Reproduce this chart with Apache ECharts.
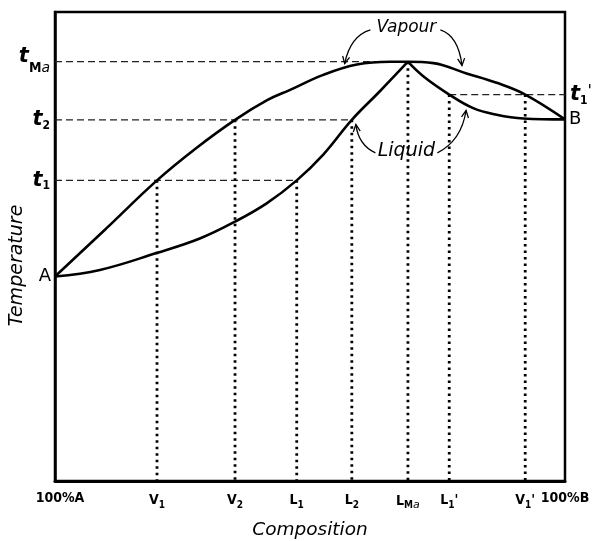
<!DOCTYPE html>
<html><head><meta charset="utf-8">
<script src="https://cdn.jsdelivr.net/npm/echarts@6/dist/echarts.min.js"></script>
<style>html,body{margin:0;padding:0;background:#fff}#c{width:593px;height:541px}</style>
</head><body><div id="c"></div>
<script>
// ---- data (composition % along axis, temperature in relative units) ----
const compTicks  = [0, 20, 35.3, 47.4, 58.2, 69.2, 77.3, 92.2, 100];
const compLabels = ['100%A', 'V{s|1}', 'V{s|2}', 'L{s|1}', 'L{s|2}', 'L{s|M}{si|a}', "L{s|1}'", "V{s|1}'", '100%B'];
const tempTicks  = [64.1, 77.0, 89.4];
const tempLabels = ['{t|t}{s|1}', '{t|t}{s|2}', '{tt|t}{S|M}{SI|a}'];
const t1pTemp = 82.4;
const t1pLabel = "{t|t}{s|1}{p|'}";
const tempA = 43.6, tempB = 77.1;

const vapourX = [0, 10, 20, 27.6, 35.3, 41.6, 46.1, 52.6, 59.2, 65.7, 69.2, 74.2, 80.7, 86.6, 92.2, 100];
const vapourY = [43.6, 53.8, 64.1, 70.9, 77.0, 81.2, 83.4, 86.6, 88.8, 89.4, 89.4, 89.1, 86.9, 84.9, 82.4, 77.1];
const liquidX = [0, 8.8, 19.9, 28.4, 35.3, 41.5, 47.4, 52.6, 58.2, 63.7, 69.2];
const liquidY = [43.6, 45.0, 48.6, 51.7, 55.3, 59.2, 64.1, 69.6, 77.0, 83.1, 89.4];
const liquidRX = [69.2, 72.2, 77.3, 82.0, 86.6, 91.8, 100];
const liquidRY = [89.4, 86.3, 82.4, 79.5, 78.1, 77.3, 77.1];

// guide lines: [xStart, xEnd, temperature]
const hGuideX0 = [0, 0, 0, 77.3];
const hGuideX1 = [69.2, 58.2, 47.4, 100];
const hGuideT  = [89.4, 77.0, 64.1, 82.4];
// vertical drops: composition and temperature they start at
const vDropX = [20, 35.3, 47.4, 58.2, 69.2, 77.3, 92.2];
const vDropT = [64.1, 77.0, 64.1, 77.0, 89.4, 82.4, 82.4];

const chart = echarts.init(document.getElementById('c'), null, {renderer: 'canvas'});
const ink = '#000';
const FF = 'DejaVu Sans';
const FC = 'DejaVu Sans Condensed';
const zip = (xs, ys) => xs.map((x, i) => [x, ys[i]]);

const tickRich = {
  m: {fontSize: 14, fontWeight: 'bold', fontFamily: FC, color: ink},
  a: {fontSize: 14, fontWeight: 'bold', fontFamily: FC, color: ink, padding: [0, 0, 0, 10]},
  s: {fontSize: 10, fontWeight: 'bold', fontFamily: FC, color: ink, padding: [9, 0, 0, 0]},
  si: {fontSize: 11, fontStyle: 'italic', fontFamily: FF, color: ink, padding: [9, 0, 0, 0]}
};
const yRich = {
  t: {fontSize: 21, fontStyle: 'italic', fontWeight: 'bold', fontFamily: FF, color: ink},
  tt: {fontSize: 21, fontStyle: 'italic', fontWeight: 'bold', fontFamily: FF, color: ink, padding: [0, 0, 10, 0]},
  s: {fontSize: 12, fontWeight: 'bold', fontFamily: FC, color: ink, padding: [12, 0, 0, 0]},
  S: {fontSize: 14, fontWeight: 'bold', fontFamily: FC, color: ink, padding: [14, 0, 0, 0]},
  SI: {fontSize: 14, fontStyle: 'italic', fontFamily: FF, color: ink, padding: [14, 0, 0, 0]},
  p: {fontSize: 16, fontFamily: FF, color: ink, padding: [0, 0, 6, 0]}
};

const series = [];
hGuideT.forEach((t, i) => series.push({
  type: 'line', data: [[hGuideX0[i], t], [hGuideX1[i], t]], showSymbol: false, silent: true,
  lineStyle: {color: '#222', width: 1.2, type: [7, 4]}, z: 2
}));
vDropX.forEach((x, i) => series.push({
  type: 'line', data: [[x, vDropT[i]], [x, 0]], showSymbol: false, silent: true,
  lineStyle: {color: ink, width: 2.8, type: [2.5, 4]}, z: 2
}));
[[vapourX, vapourY], [liquidX, liquidY], [liquidRX, liquidRY]].forEach(([xs, ys]) => series.push({
  type: 'line', data: zip(xs, ys), showSymbol: false, smooth: 0.4, silent: true,
  lineStyle: {color: ink, width: 2.6}, z: 5
}));
series.push({
  type: 'scatter', symbolSize: 0, silent: true, z: 6, itemStyle: {opacity: 1},
  data: [
    {value: [0, tempA], label: {show: true, formatter: 'A', position: 'left', distance: 4, color: ink, fontSize: 18, fontFamily: FF, opacity: 1}},
    {value: [100, tempB], label: {show: true, formatter: 'B', position: 'right', distance: 4, color: ink, fontSize: 18, fontFamily: FF, opacity: 1}}
  ]
});

chart.setOption({
  animation: false,
  backgroundColor: '#fff',
  grid: {left: 55, right: 28, top: 12, bottom: 60, show: true, borderColor: ink, borderWidth: 2.5,
         containLabel: false, outerBoundsMode: 'none'},
  xAxis: {
    type: 'value', min: 0, max: 100,
    name: 'Composition', nameLocation: 'middle', nameGap: 40, nameMoveOverlap: false,
    nameTextStyle: {fontSize: 18.5, fontStyle: 'italic', fontFamily: FF, color: ink},
    axisLine: {show: true, lineStyle: {color: ink, width: 3}},
    axisTick: {show: false}, splitLine: {show: false},
    axisLabel: {
      customValues: compTicks, margin: 10, color: ink, rich: tickRich,
      formatter: v => {
        const i = compTicks.indexOf(v); if (i < 0) return '';
        const s = compLabels[i];
        if (s.startsWith('100')) return (i === 0 ? '{a|' : '{m|') + s + '}';
        return s.replace(/^([A-Z])/, '{m|$1}').replace(/'$/, "{m|'}");
      }
    }
  },
  yAxis: [{
    type: 'value', min: 0, max: 100,
    name: 'Temperature', nameLocation: 'middle', nameGap: 28, nameRotate: 90, nameMoveOverlap: false,
    nameTextStyle: {fontSize: 19, fontStyle: 'italic', fontFamily: FF, color: ink, padding: [0, 38, 0, 0]},
    axisLine: {show: true, lineStyle: {color: ink, width: 2.5}},
    axisTick: {show: false}, splitLine: {show: false},
    axisLabel: {
      customValues: tempTicks, margin: 5, rich: yRich,
      formatter: v => { const i = tempTicks.indexOf(v); return i < 0 ? '' : tempLabels[i]; }
    }
  }, {
    type: 'value', min: 0, max: 100, position: 'right',
    axisLine: {show: false}, axisTick: {show: false}, splitLine: {show: false},
    axisLabel: {customValues: [t1pTemp], margin: 5, rich: yRich, formatter: () => t1pLabel}
  }],
  series: series
});

// annotations ("Vapour", "Liquid" with curved arrows), anchored in data space
const P = (x, y) => chart.convertToPixel({gridIndex: 0}, [x, y]);
function arrow(s, c, e) {
  const dx = e[0] - c[0], dy = e[1] - c[1], L = Math.hypot(dx, dy);
  const ux = dx / L, uy = dy / L, h = 7, w = 3.5;
  const b = [e[0] - ux * h, e[1] - uy * h];
  return [
    {type: 'bezierCurve', shape: {x1: s[0], y1: s[1], x2: e[0], y2: e[1], cpx1: c[0], cpy1: c[1]},
     style: {stroke: ink, lineWidth: 1.3, fill: null}, z: 20},
    {type: 'polyline', shape: {points: [[b[0] - uy * w, b[1] + ux * w], e, [b[0] + uy * w, b[1] - ux * w]]},
     style: {stroke: ink, lineWidth: 1.3, fill: null}, z: 20}
  ];
}
const vT = P(68.9, 96.6), lT = P(68.9, 70.4);
const g = [
  {type: 'text', x: vT[0], y: vT[1], style: {text: 'Vapour', fontSize: 17, fontStyle: 'italic', fontFamily: FF, fill: ink, align: 'center', verticalAlign: 'middle'}, z: 20},
  {type: 'text', x: lT[0], y: lT[1], style: {text: 'Liquid', fontSize: 19, fontStyle: 'italic', fontFamily: FF, fill: ink, align: 'center', verticalAlign: 'middle'}, z: 20},
  ...arrow([vT[0] - 36, vT[1] + 2], [vT[0] - 56, vT[1] + 8], P(56.8, 89.0)),
  ...arrow([vT[0] + 34, vT[1] + 2], [vT[0] + 52, vT[1] + 8], P(79.8, 88.6)),
  ...arrow([lT[0] - 31, lT[1] + 2], [lT[0] - 48, lT[1] - 6], P(59.0, 76.0)),
  ...arrow([lT[0] + 31, lT[1] + 2], [lT[0] + 55, lT[1] - 10], P(80.6, 79.0))
];
chart.setOption({graphic: g});
</script></body></html>
